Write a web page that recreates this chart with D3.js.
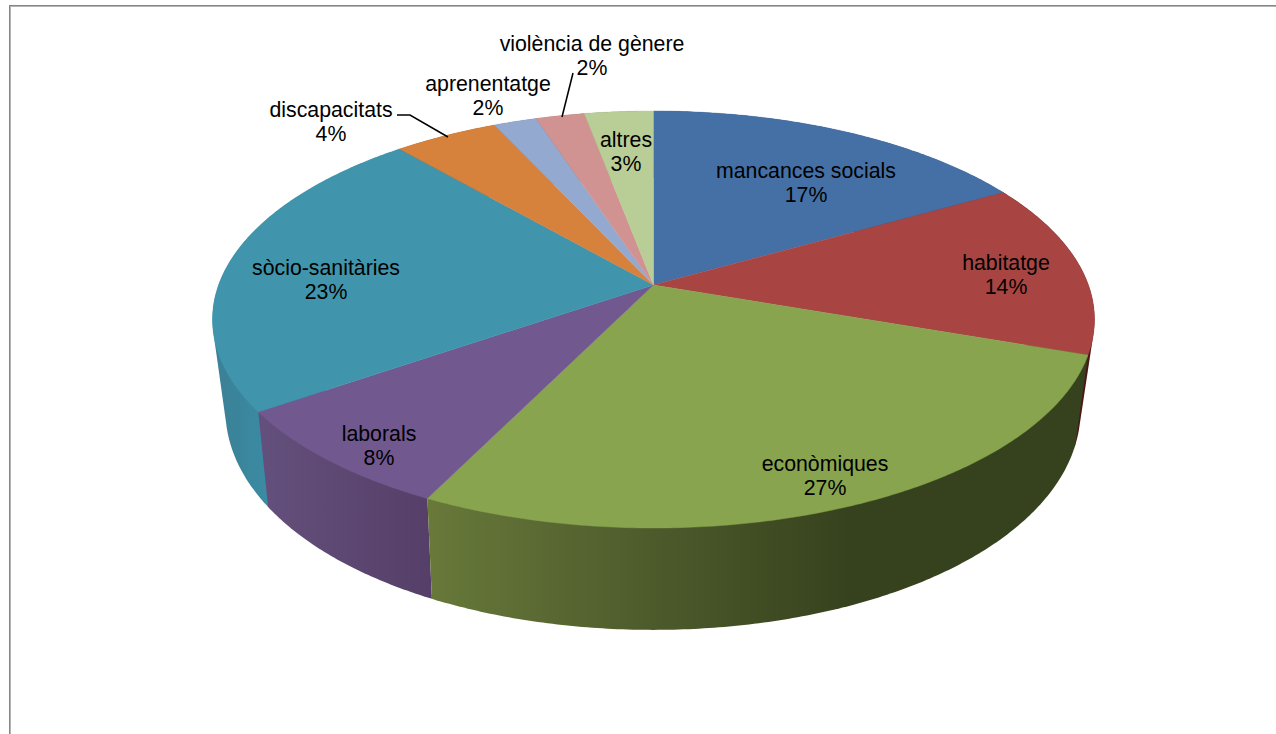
<!DOCTYPE html>
<html><head><meta charset="utf-8">
<script src="https://cdn.jsdelivr.net/npm/d3@7"></script>
<style>html,body{margin:0;padding:0;background:#fff;overflow:hidden}svg{display:block}
text{font-family:"Liberation Sans",Arial,sans-serif;font-size:21.3px;fill:#000;text-anchor:middle}</style>
</head><body><svg id="c" width="1276" height="734"></svg>
<script>
const categories = ["mancances socials","habitatge","econòmiques","laborals","sòcio-sanitàries","discapacitats","aprenentatge","violència de gènere","altres"];
const values = [16.8,13.5,27.0,8.1,23.2,4.49,1.85,2.1,2.96];
const percentLabels = ["17%","14%","27%","8%","23%","4%","2%","2%","3%"];
const topColors = ["#4570a6","#a84543","#88a44e","#71588f","#4095ad","#d6813c","#93a9cf","#d19392","#b9cd96"];
const sideStops = [["#2c4568","#2c4568"],["#4a1716","#4a1716"],["#68793a","#36421d"],["#64507c","#553f68"],["#3b8197","#3a8ba3"],["#8a5326","#8a5326"],["#5e6c85","#5e6c85"],["#875f5e","#875f5e"],["#778461","#778461"]];

// Layout of the drawing (not data)
const topPlane  = {cx:653.5, cy:285, R:434.9, S:202.8, k:0.1655, kx:0.1655};
const basePlane = {cx:653,   cy:370, R:421,   S:221,   k:0.1496, kx:0.175};
const labelAt = [[806,178],[1006,270],[825,471],[379,441],[326,275],[331,117],[488,91],[592,51],[626,147]];
const leaders = {5:[[397,115],[410,115],[448,137]],7:[[573,73],[562,117]]};
const sideGradX = {2:[427,850],3:[258,433],4:[222,266]};

const project = (p,a)=>{ const u=Math.sin(a), v=Math.cos(a);
  return [p.cx+p.R*u/(1+p.kx*v), p.cy-p.S*v/(1+p.k*v)]; };
const pie = d3.pie().sort(null).value(d=>d).startAngle(0).endAngle(2*Math.PI);
const arcs = pie(values);
const line = d3.line();
const samples = (a0,a1)=>{const n=Math.max(4,Math.ceil((a1-a0)/0.01));return d3.range(n+1).map(i=>a0+(a1-a0)*i/n);};

const svg = d3.select("#c");
const defs = svg.append("defs");
// frame
svg.append("rect").attr("x",9).attr("y",5).attr("width",1267).attr("height",1).attr("fill","#858585");
svg.append("rect").attr("x",9).attr("y",6).attr("width",1267).attr("height",1).attr("fill","#b5b5b5");
svg.append("rect").attr("x",9).attr("y",5).attr("width",1).attr("height",729).attr("fill","#858585");
svg.append("rect").attr("x",10).attr("y",6).attr("width",1).attr("height",728).attr("fill","#b5b5b5");

// sides, back to front (the hull joins the top rim to the base rim)
const sideOrder = [0,8,7,6,5,1,4,3,2];
sideOrder.forEach(i=>{
  const d=arcs[i], as=samples(d.startAngle,d.endAngle);
  let fill=sideStops[i][0];
  if(sideGradX[i]){
    const id="g"+i, g=defs.append("linearGradient").attr("id",id).attr("gradientUnits","userSpaceOnUse")
      .attr("x1",sideGradX[i][0]).attr("x2",sideGradX[i][1]).attr("y1",0).attr("y2",0);
    g.append("stop").attr("offset",0).attr("stop-color",sideStops[i][0]);
    if(i===2) g.append("stop").attr("offset",0.55).attr("stop-color","#4c5a2b");
    g.append("stop").attr("offset",1).attr("stop-color",sideStops[i][1]);
    fill=`url(#${id})`;
  }
  const pts=as.map(a=>project(topPlane,a)).concat(as.map(a=>project(basePlane,a)));
  svg.append("path").attr("d",line(d3.polygonHull(pts))+"Z").attr("fill",fill);
});
// top faces
arcs.forEach((d,i)=>{
  const pts=[[topPlane.cx,topPlane.cy]].concat(samples(d.startAngle,d.endAngle).map(a=>project(topPlane,a)));
  svg.append("path").attr("d",line(pts)+"Z").attr("fill",topColors[i]).attr("stroke",topColors[i]).attr("stroke-width",0.4);
});
// leader lines
Object.values(leaders).forEach(l=>svg.append("path").attr("d",line(l)).attr("fill","none").attr("stroke","#000").attr("stroke-width",1.5));
// labels
categories.forEach((c,i)=>{
  svg.append("text").attr("x",labelAt[i][0]).attr("y",labelAt[i][1]).text(c);
  svg.append("text").attr("x",labelAt[i][0]).attr("y",labelAt[i][1]+24).text(percentLabels[i]);
});
</script></body></html>
